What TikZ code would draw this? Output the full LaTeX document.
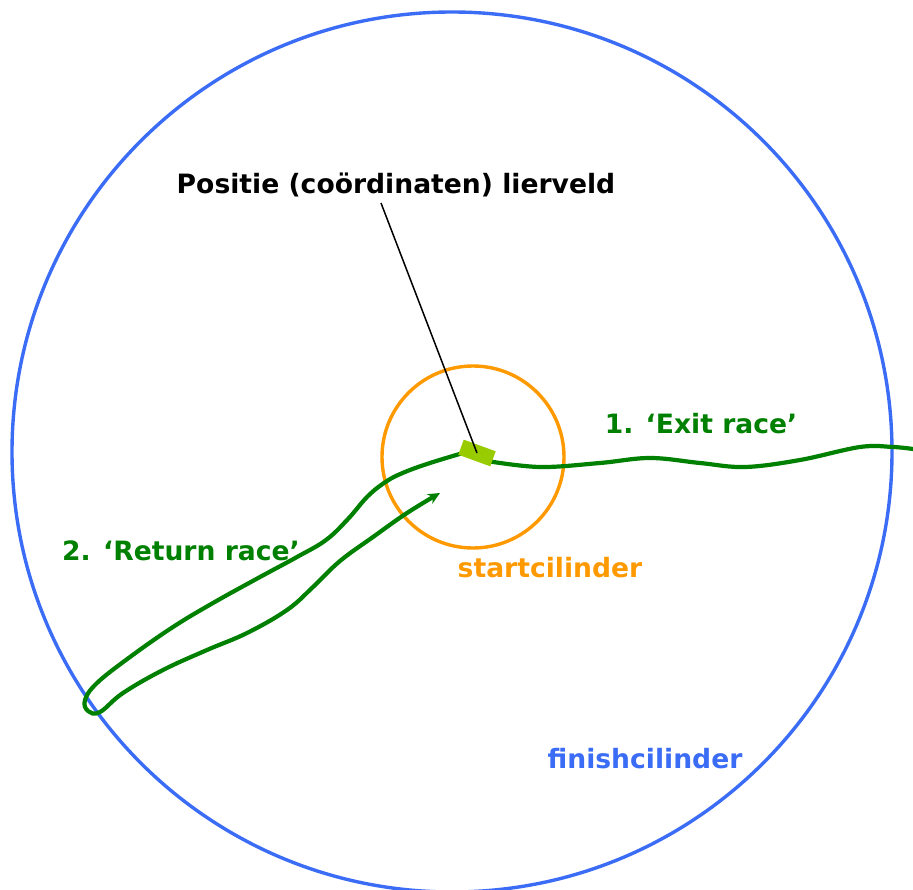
\documentclass[tikz,border=0pt]{standalone}
\usepackage{fontspec}
\setmainfont{DejaVu Sans}
\usepackage{tikz}
\usetikzlibrary{arrows.meta, positioning}
\definecolor{finishblue}{RGB}{58,108,245}
\definecolor{startorange}{RGB}{255,153,0}
\definecolor{racegreen}{RGB}{0,128,0}
\definecolor{fieldgreen}{RGB}{153,204,0}

\begin{document}
\begin{tikzpicture}[x=1pt, y=-1pt,
  lbl/.style={font=\fontsize{26.6}{32}\selectfont\bfseries, inner sep=0pt},
  cilinder/.style={draw, circle, line width=3.4pt, inner sep=0pt},
  race/.style={racegreen, line width=4.2pt, line cap=round},
  lierveldbox/.style={fill=fieldgreen, minimum width=34pt, minimum height=16pt,
                      inner sep=0pt, rotate=-20},
]
\useasboundingbox (0,0) rectangle (913,890);
\node[cilinder, finishblue, minimum size=880pt] (finish) at (452,452) {};
\node[cilinder, startorange, minimum size=182pt] (start) at (473,457) {};
% exit race
\draw[race] plot[smooth, tension=0.6] coordinates {(487,461) (540,467) (600,463)
  (650,458) (700,463) (745,467) (800,460) (860,447) (893,447) (913,449)};
% return race
\draw[race, -{Stealth[length=12pt, width=11pt]}] plot[smooth, tension=0.65] coordinates {
  (463,453) (430,463) (405,472) (387,481) (368,496) (348,519) (326,540)
  (297,557) (260,577) (213,603) (173,627) (130,657) (97,683) (85,700)
  (88,711) (100,712) (123,693) (163,670) (207,650) (247,633) (287,610)
  (313,587) (340,561) (373,537) (407,513) (440,493)};
\node[lierveldbox] (lierveld) at (477,453) {};
\node[lbl] (positie) at (396,185) {Positie (coördinaten) lierveld};
\coordinate (pin) at (381,203);
\draw[line width=1.5pt] (pin) -- (lierveld.center);
\node[lbl, racegreen] (exit) at (701,424) {1. ‘Exit race’};
\node[lbl, racegreen] (return) at (181,551) {2. ‘Return race’};
\node[lbl, startorange] (startlbl) at (550,568) {startcilinder};
\node[lbl, finishblue] (finishlbl) at (645,759) {finishcilinder};
\end{tikzpicture}
\end{document}
